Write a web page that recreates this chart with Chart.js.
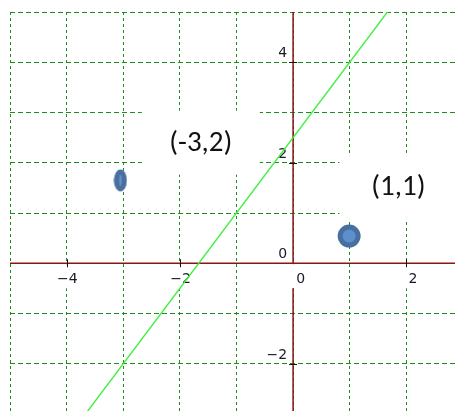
<!DOCTYPE html>
<html>
<head>
<meta charset="utf-8">
<script src="https://cdn.jsdelivr.net/npm/chart.js@4/dist/chart.umd.min.js"></script>
<style>
  html, body { margin: 0; padding: 0; background: #fff; }
  canvas { display: block; }
</style>
</head>
<body>
<canvas id="plot" width="455" height="411"></canvas>
<script>
"use strict";
// data
const xTicks = [-4, -2, 0, 2];
const yTicks = [-2, 0, 2, 4];
const pointX = [-3.05, 0.99];
const pointY = [1.65, 0.54];
const lineX = [-4, 2];
const lineY = [-3.5, 5.5];
const noteText = ["(-3,2)", "(1,1)"];

// where the two notes sit (data units)
const notePos = [
  { x: -1.63, y: 2.38 },
  { x: 1.86, y: 1.50 },
];

const axisColor = "#8b1414";
const tickFont = "14px 'DejaVu Sans'";
const noteFont = "29px Carlito, Calibri, Lato, sans-serif";

// elongated marker for the first point
const ellipse = document.createElement("canvas");
ellipse.width = 14;
ellipse.height = 23;
{
  const c = ellipse.getContext("2d");
  c.fillStyle = "#476f9f";
  c.beginPath();
  c.ellipse(7, 11.5, 6.5, 11, 0, 0, Math.PI * 2);
  c.fill();
  c.fillStyle = "rgba(120,160,210,0.7)";
  c.beginPath();
  c.ellipse(7, 11.5, 1.3, 6, 0, 0, Math.PI * 2);
  c.fill();
}

const labelMinus = (v) => (v < 0 ? "\u2212" + Math.abs(v) : String(v));

const overlay = {
  id: "overlay",
  beforeDatasetsDraw(chart) {
    const { ctx, chartArea: a } = chart;
    const x = chart.scales.x, y = chart.scales.y;
    const x0 = x.getPixelForValue(0), y0 = y.getPixelForValue(0);
    ctx.save();

    // white boxes behind the notes
    ctx.fillStyle = "#fff";
    notePos.forEach((p) => {
      const cx = x.getPixelForValue(p.x), cy = y.getPixelForValue(p.y);
      ctx.fillRect(cx - 59, cy - 33, 118, 64);
    });
    // boxes behind x tick labels
    xTicks.forEach((v) => {
      const px = x.getPixelForValue(v);
      ctx.fillRect(px - 15, y0 + 1, 30, 24);
    });

    // axes
    ctx.strokeStyle = axisColor;
    ctx.lineWidth = 1.5;
    ctx.beginPath();
    ctx.moveTo(a.left, y0);
    ctx.lineTo(a.right, y0);
    ctx.moveTo(x0, a.top);
    ctx.lineTo(x0, y0);
    ctx.moveTo(x0, y0 + 25);
    ctx.lineTo(x0, a.bottom);
    ctx.stroke();

    // tick marks
    ctx.strokeStyle = "#111";
    ctx.lineWidth = 1;
    ctx.beginPath();
    yTicks.filter((v) => v !== 0).forEach((v) => {
      const py = Math.round(y.getPixelForValue(v)) + 0.5;
      ctx.moveTo(x0 - 4, py);
      ctx.lineTo(x0 + 4, py);
    });
    xTicks.filter((v) => v !== 0).forEach((v) => {
      const px = Math.round(x.getPixelForValue(v)) + 0.5;
      ctx.moveTo(px, y0 - 4);
      ctx.lineTo(px, y0 + 4);
    });
    ctx.stroke();

    // tick labels
    ctx.font = tickFont;
    ctx.fillStyle = "#1a1a28";
    ctx.textAlign = "right";
    ctx.textBaseline = "alphabetic";
    xTicks.forEach((v) => {
      const px = x.getPixelForValue(v);
      ctx.fillText(labelMinus(v), px + (v === 0 ? 12 : 11), y0 + 20);
    });
    yTicks.forEach((v) => {
      const py = y.getPixelForValue(v);
      ctx.fillText(labelMinus(v), x0 - 6, py - 5);
    });
    ctx.restore();
  },
  afterDatasetsDraw(chart) {
    const { ctx } = chart;
    const x = chart.scales.x, y = chart.scales.y;
    ctx.save();
    ctx.font = noteFont;
    ctx.fillStyle = "#111";
    ctx.textAlign = "center";
    ctx.textBaseline = "middle";
    noteText.forEach((t, i) => {
      ctx.fillText(t, x.getPixelForValue(notePos[i].x), y.getPixelForValue(notePos[i].y));
    });
    ctx.restore();
  },
};

const keepInts = (s) => {
  s.ticks = s.ticks.filter((t) => Number.isInteger(t.value));
};

const gridOpts = { color: "#1c8e1c", lineWidth: 1, drawTicks: false };

new Chart(document.getElementById("plot"), {
  type: "scatter",
  data: {
    datasets: [
      {
        type: "line",
        data: lineX.map((v, i) => ({ x: v, y: lineY[i] })),
        borderColor: "#3ef03e",
        borderWidth: 1.4,
        pointRadius: 0,
        fill: false,
        order: 2,
      },
      {
        data: pointX.map((v, i) => ({ x: v, y: pointY[i] })),
        pointStyle: [ellipse, "circle"],
        pointRadius: [10, 9],
        backgroundColor: "#5d8fca",
        borderColor: "#476f9f",
        borderWidth: [0, 5],
        order: 1,
      },
    ],
  },
  options: {
    responsive: false,
    animation: false,
    layout: { autoPadding: false, padding: { left: 10, top: 12, right: 0, bottom: 0 } },
    plugins: { legend: { display: false }, tooltip: { enabled: false } },
    scales: {
      x: {
        type: "linear",
        min: -5,
        max: 2.86,
        afterBuildTicks: keepInts,
        afterFit: (s) => { s.height = 0; s.paddingLeft = 0; s.paddingRight = 0; },
        ticks: { display: false, stepSize: 1, padding: 0 },
        grid: gridOpts,
        border: { display: false, dash: [3, 3] },
      },
      y: {
        type: "linear",
        min: -2.94,
        max: 5,
        afterBuildTicks: keepInts,
        afterFit: (s) => { s.width = 0; s.paddingTop = 0; s.paddingBottom = 0; },
        ticks: { display: false, stepSize: 1, padding: 0 },
        grid: gridOpts,
        border: { display: false, dash: [5, 3] },
      },
    },
  },
  plugins: [overlay],
});
</script>
</body>
</html>
